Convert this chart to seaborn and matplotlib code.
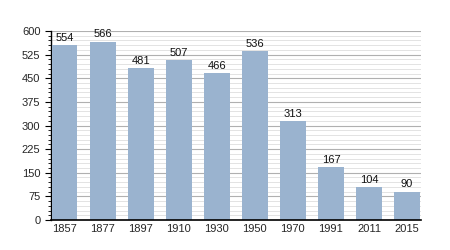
import matplotlib
matplotlib.use("Agg")
import matplotlib.pyplot as plt
import seaborn as sns
import pandas as pd
from matplotlib.ticker import MultipleLocator, NullLocator

years = ["1857", "1877", "1897", "1910", "1930", "1950", "1970", "1991", "2011", "2015"]
population = [554, 566, 481, 507, 466, 536, 313, 167, 104, 90]

df = pd.DataFrame({"year": years, "pop": population})

sns.set_style("white")
plt.rcParams["font.family"] = ["Liberation Sans", "DejaVu Sans"]

fig = plt.figure(figsize=(4.5, 2.5), dpi=100)
ax = fig.add_axes([0.113, 0.12, 0.822, 0.756])

ax.set_axisbelow(True)

sns.barplot(data=df, x="year", y="pop", color="#9ab3cf", saturation=1,
            width=0.68, ax=ax, zorder=3, linewidth=0, edgecolor="none")

ax.yaxis.set_major_locator(MultipleLocator(75))
ax.yaxis.set_minor_locator(MultipleLocator(15))
ax.xaxis.set_minor_locator(NullLocator())
ax.grid(which="major", axis="y", color="#b0b0b0", linewidth=0.8)
ax.grid(which="minor", axis="y", color="#dedede", linewidth=0.6)
ax.grid(which="both", axis="x", visible=False)

for i, v in enumerate(population):
    ax.text(i, v + 8, str(v), ha="center", va="bottom", fontsize=8, color="#111111")

ax.set_ylim(0, 600)
ax.set_xlim(-0.36, 9.36)
ax.set_xlabel("")
ax.set_ylabel("")
for s in ["top", "right"]:
    ax.spines[s].set_visible(False)
ax.spines["left"].set_color("black")
ax.spines["bottom"].set_color("black")
ax.spines["left"].set_linewidth(1)
ax.spines["bottom"].set_linewidth(1.2)
ax.spines["bottom"].set_zorder(5)
ax.tick_params(axis="y", which="major", length=4, width=0.8, labelsize=8, left=True, color="black")
ax.tick_params(axis="y", which="minor", length=2, width=0.6, left=True, color="black")
ax.tick_params(axis="x", which="both", length=0, labelsize=8, pad=3, bottom=False)

fig.savefig("out.png", dpi=100)
